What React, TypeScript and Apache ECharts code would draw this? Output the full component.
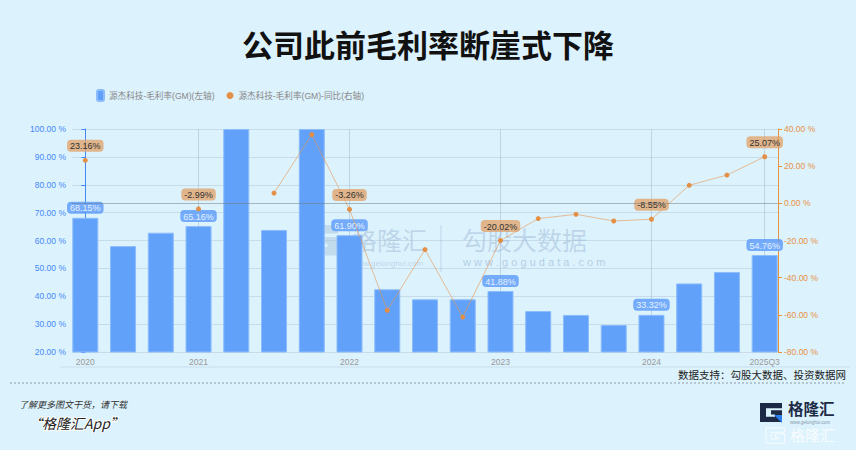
import React, { useEffect, useRef } from "react";
import * as echarts from "echarts";

const categories = [
  "2020", "2021Q1", "2021Q2", "2021", "2022Q1", "2022Q2", "2022Q3", "2022",
  "2023Q1", "2023Q2", "2023Q3", "2023", "2024Q1", "2024Q2", "2024Q3", "2024",
  "2025Q1", "2025Q2", "2025Q3",
];
const shownLabels = ["2020", "2021", "2022", "2023", "2024", "2025Q3"];
const gmValues = [68.15, 58.0, 62.8, 65.16, 100, 63.8, 100, 61.9, 42.5, 38.9, 38.9, 41.88, 34.7, 33.3, 29.7, 33.32, 44.6, 48.7, 54.76];
const yoyValues: (number | null)[] = [23.16, null, null, -2.99, null, 5.5, 37.0, -3.26, -57.6, -24.9, -61.2, -20.02, -8.2, -5.9, -9.5, -8.55, 9.7, 15.2, 25.07];
const leftTicks = { min: 20, max: 100, interval: 10 };
const rightTicks = { min: -80, max: 40, interval: 20 };
const seriesNames = ["源杰科技-毛利率(GM)(左轴)", "源杰科技-毛利率(GM)-同比(右轴)"];
const titleText = "公司此前毛利率断崖式下降";
const sourceText = "数据支持：勾股大数据、投资数据网";

const FONT = "'Liberation Sans', 'Noto Sans CJK SC', sans-serif";
const CJK = "'Noto Sans CJK SC', sans-serif";

const gPath = "M0,0 L22,0 L22,5 L6,5 L6,13 L15,13 L15,11 L11,11 L11,7 L22,7 L22,18 L0,18 Z";

// plot geometry (pixels)
const PLOT_LEFT = 72;
const PLOT_RIGHT = 778;
const EDGE_PAD = 13.3;

export default function App() {
  const ref = useRef<HTMLDivElement>(null);
  useEffect(() => {
    try {
      echarts.graphic.registerShape("glogo", echarts.graphic.extendPath(gPath, {}) as any);
    } catch (e) {}
    const chart = echarts.init(ref.current!, null, { renderer: "svg" });
    const shown = (i: number) => shownLabels.includes(categories[i]);

    const n = categories.length;
    const innerW = PLOT_RIGHT - PLOT_LEFT - 2 * EDGE_PAD;
    const step = innerW / (n - 1);
    const padUnits = EDGE_PAD / step;

    const barData = gmValues.map((v, i) => ({
      value: [i, v],
      label: { show: shown(i) },
    }));
    const lineData = yoyValues.map((v, i) => ({
      value: [i, v === null ? "-" : v],
      label: { show: shown(i) && v !== null },
    }));

    const axisFont = 8.5;

    chart.setOption({
      animation: false,
      backgroundColor: "#dcf2fd",
      textStyle: { fontFamily: FONT },
      legend: {
        top: 84,
        left: 91,
        itemWidth: 7,
        itemHeight: 11,
        itemGap: 12,
        textStyle: { color: "#888", fontSize: 8.6, fontFamily: FONT },
        data: [
          { name: seriesNames[0], icon: "roundRect", itemStyle: { color: "#5f9ff9" } },
          { name: seriesNames[1], icon: "circle", itemStyle: { color: "#e38f45" } },
        ],
      },
      grid: [
        { left: PLOT_LEFT, right: 856 - PLOT_RIGHT, top: 129, bottom: 98, containLabel: false },
        { left: PLOT_LEFT + EDGE_PAD, right: 856 - PLOT_RIGHT + EDGE_PAD, top: 129, bottom: 98, containLabel: false },
      ],
      xAxis: [
        {
          gridIndex: 0,
          type: "value",
          min: -padUnits,
          max: n - 1 + padUnits,
          show: false,
        },
        {
          gridIndex: 1,
          type: "category",
          data: categories,
          boundaryGap: false,
          axisLine: { show: true, lineStyle: { color: "#c9dbe8" } },
          axisTick: { show: false },
          splitLine: {
            show: true,
            interval: (i: number) => shown(i),
            lineStyle: { color: "rgba(140,160,180,0.35)", width: 1 },
          },
          axisLabel: {
            interval: (i: number) => shown(i),
            color: "#999",
            fontSize: axisFont,
            margin: 6,
            fontFamily: FONT,
          },
        },
      ],
      yAxis: [
        {
          gridIndex: 0,
          type: "value",
          min: leftTicks.min,
          max: leftTicks.max,
          interval: leftTicks.interval,
          position: "left",
          axisLine: { show: true, lineStyle: { color: "#4589f7" } },
          axisTick: { show: true, length: 4, lineStyle: { color: "#4589f7" } },
          axisLabel: {
            color: "#4589f7",
            fontSize: axisFont,
            margin: 6,
            formatter: (v: number) => v.toFixed(2) + " %",
          },
          splitLine: { show: true, lineStyle: { color: "rgba(160,180,200,0.35)" } },
        },
        {
          gridIndex: 0,
          type: "value",
          min: rightTicks.min,
          max: rightTicks.max,
          interval: rightTicks.interval,
          position: "right",
          axisLine: { show: true, lineStyle: { color: "#e8913f" } },
          axisTick: { show: true, length: 4, lineStyle: { color: "#e8913f" } },
          axisLabel: {
            color: "#e8913f",
            fontSize: axisFont,
            margin: 6,
            formatter: (v: number) => v.toFixed(2) + " %",
          },
          splitLine: { show: false },
        },
        {
          gridIndex: 1,
          type: "value",
          min: 0,
          max: 1,
          show: false,
        },
      ],
      series: [
        {
          name: seriesNames[0],
          type: "bar",
          xAxisIndex: 0,
          yAxisIndex: 0,
          barWidth: 26,
          data: barData,
          itemStyle: { color: "#62a1fa", borderColor: "#8cbcfb", borderWidth: 1 },
          label: {
            position: "top",
            distance: 4,
            formatter: (p: any) => p.value[1].toFixed(2) + "%",
            color: "#e4f0ff",
            fontSize: 9,
            fontFamily: FONT,
            backgroundColor: "rgba(98,160,250,0.85)",
            padding: [2, 3, 1, 3],
            borderRadius: 4,
          },
          z: 2,
        },
        {
          name: seriesNames[1],
          type: "line",
          xAxisIndex: 0,
          yAxisIndex: 1,
          data: lineData,
          connectNulls: false,
          symbol: "circle",
          symbolSize: 5,
          itemStyle: { color: "#e38f45" },
          lineStyle: { color: "rgba(232,150,80,0.6)", width: 1 },
          label: {
            position: "top",
            distance: 6,
            formatter: (p: any) => p.value[1].toFixed(2) + "%",
            color: "#333",
            fontSize: 9,
            fontFamily: FONT,
            backgroundColor: "rgba(225,160,100,0.75)",
            padding: [2, 3, 1, 3],
            borderRadius: 4,
          },
          markLine: {
            silent: true,
            symbol: "none",
            label: { show: false },
            lineStyle: { color: "rgba(110,120,130,0.5)", type: "solid", width: 1.2 },
            data: [{ yAxis: 0 }],
          },
          z: 3,
        },
      ],
      graphic: [
        {
          type: "text",
          left: "center",
          top: 28,
          style: { text: titleText, fontSize: 31, fontWeight: "bold", fill: "#111", fontFamily: CJK },
        },
        // watermark
        {
          type: "glogo",
          x: 305,
          y: 225,
          scaleX: 1.5,
          scaleY: 1.7,
          style: { fill: "rgba(110,140,180,0.22)" },
          silent: true,
        },
        {
          type: "text",
          x: 352,
          y: 226,
          style: { text: "格隆汇", fontSize: 25, fill: "rgba(110,140,180,0.28)", fontFamily: CJK },
          silent: true,
        },
        {
          type: "text",
          x: 352,
          y: 259,
          style: { text: "www.gelonghui.com", fontSize: 8, fill: "rgba(110,140,180,0.3)", fontFamily: FONT },
          silent: true,
        },
        {
          type: "line",
          shape: { x1: 441, y1: 225, x2: 441, y2: 272 },
          style: { stroke: "rgba(110,140,180,0.25)", lineWidth: 1 },
          silent: true,
        },
        {
          type: "text",
          x: 462,
          y: 226,
          style: { text: "勾股大数据", fontSize: 25, fill: "rgba(110,140,180,0.28)", fontFamily: CJK },
          silent: true,
        },
        {
          type: "text",
          x: 463,
          y: 256,
          style: { text: "w w w . g o g u d a t a . c o m", fontSize: 11, fill: "rgba(110,140,180,0.38)", fontFamily: FONT },
          silent: true,
        },
        // bottom
        {
          type: "line",
          shape: { x1: 60, y1: 367, x2: 850, y2: 367 },
          style: { stroke: "rgba(200,220,235,0.9)", lineWidth: 1 },
          silent: true,
        },
        {
          type: "text",
          right: 10,
          top: 369,
          style: { text: sourceText, fontSize: 10.5, fill: "#222", fontFamily: CJK },
        },
        {
          type: "line",
          shape: { x1: 10, y1: 383, x2: 846, y2: 383 },
          style: { stroke: "#8a9aa5", lineWidth: 1, lineDash: [2, 2] },
          silent: true,
        },
        {
          type: "text",
          x: 19,
          y: 400,
          style: { text: "了解更多图文干货，请下载", fontSize: 9, fontStyle: "italic", fill: "#333", fontFamily: CJK },
        },
        {
          type: "text",
          x: 28,
          y: 416,
          style: {
            text: "“格隆汇App”",
            fontSize: 14,
            fontStyle: "italic",
            fill: "#222",
            stroke: "#fff",
            lineWidth: 2,
            fontFamily: CJK,
          },
        },
        // logo
        {
          type: "glogo",
          x: 760,
          y: 403,
          scaleX: 1,
          scaleY: 1.05,
          style: { fill: "#1c2a45" },
          silent: true,
        },
        {
          type: "polygon",
          shape: { points: [[774, 415], [782, 415], [782, 423]] },
          style: { fill: "#2b7de9" },
          silent: true,
        },
        {
          type: "text",
          x: 788,
          y: 400,
          style: { text: "格隆汇", fontSize: 15.5, fontWeight: "bold", fill: "#1c2a45", fontFamily: CJK },
        },
        {
          type: "text",
          x: 790,
          y: 420,
          style: { text: "www.gelonghui.com", fontSize: 4.5, fill: "#8899aa", fontFamily: FONT },
        },
        {
          type: "glogo",
          x: 766,
          y: 428,
          scaleX: 0.85,
          scaleY: 0.85,
          style: { fill: "none", stroke: "rgba(255,255,255,0.9)", lineWidth: 1 },
          silent: true,
        },
        {
          type: "text",
          x: 790,
          y: 427,
          style: { text: "格隆汇", fontSize: 15, fill: "rgba(255,255,255,0.85)", fontFamily: CJK },
        },
      ],
    });
    return () => chart.dispose();
  }, []);
  return (
    <div
      ref={ref}
      style={{ position: "fixed", left: 0, top: 0, width: 856, height: 450 }}
    />
  );
}
